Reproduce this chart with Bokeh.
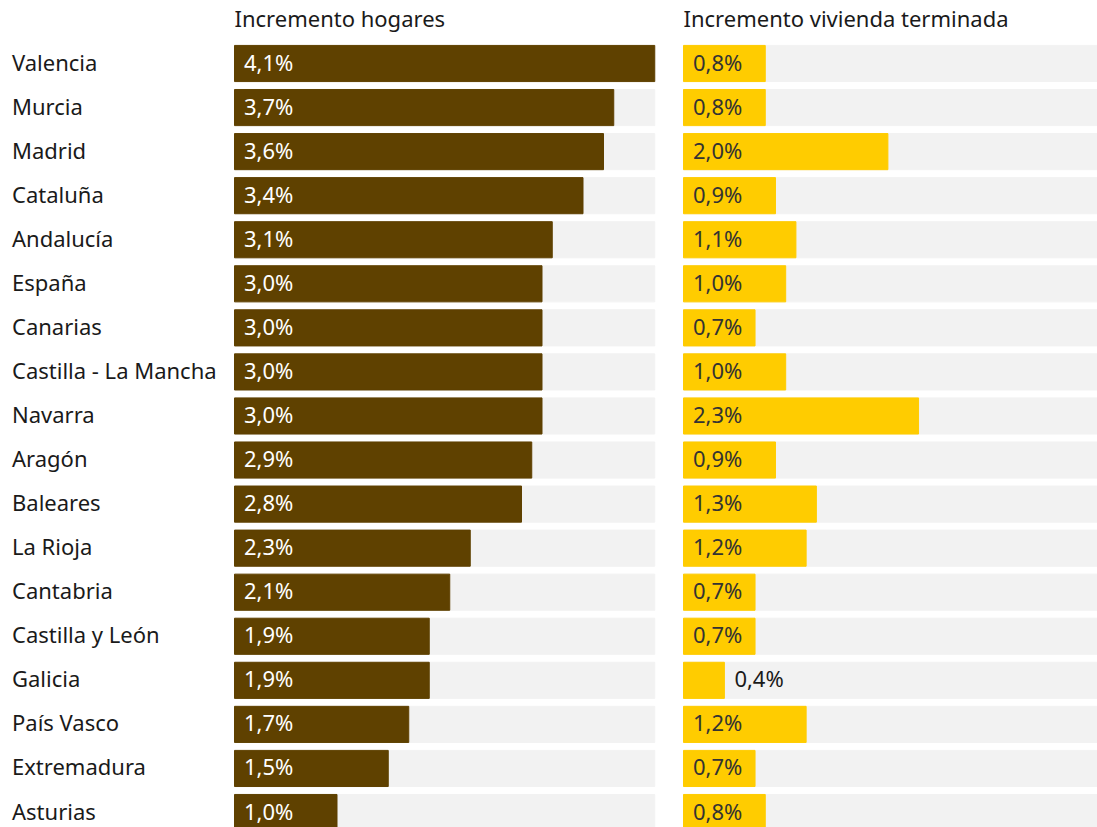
from bokeh.plotting import figure
from bokeh.layouts import row
from bokeh.models import Range1d, ColumnDataSource
from bokeh.core.properties import value
from bokeh.embed import file_html
from bokeh.resources import INLINE

regions = ["Valencia", "Murcia", "Madrid", "Cataluña", "Andalucía", "España", "Canarias",
           "Castilla - La Mancha", "Navarra", "Aragón", "Baleares", "La Rioja", "Cantabria",
           "Castilla y León", "Galicia", "País Vasco", "Extremadura", "Asturias"]
hogares = [4.1, 3.7, 3.6, 3.4, 3.1, 3.0, 3.0, 3.0, 3.0, 2.9, 2.8, 2.3, 2.1, 1.9, 1.9, 1.7, 1.5, 1.0]
vivienda = [0.8, 0.8, 2.0, 0.9, 1.1, 1.0, 0.7, 1.0, 2.3, 0.9, 1.3, 1.2, 0.7, 0.7, 0.4, 1.2, 0.7, 0.8]
titles = ["Incremento hogares", "Incremento vivienda terminada"]
max_val = 4.1

FONT = "Noto Sans"
FS = "22px"
H = 827
ROW = 44.06         # pixels per row
TOP = 63            # pixel of first row centre
BAR_H = 0.82
n = len(regions)
ys = list(range(n))
y_top = -TOP / ROW
y_bot = (H - TOP) / ROW


def fmt(v):
    return ("%.1f" % v).replace(".", ",") + "%"


def panel(width, left_px, S, vals, color, inside_color, title, with_labels):
    p = figure(width=width, height=H, output_backend="svg", toolbar_location=None,
               x_range=Range1d(-left_px / S, (width - left_px) / S),
               y_range=Range1d(y_bot, y_top), min_border=0, outline_line_color=None)
    p.axis.visible = False
    p.grid.visible = False
    p.background_fill_color = "white"
    p.border_fill_color = "white"
    src = ColumnDataSource(dict(y=ys, v=vals, bg=[max_val] * n))
    p.hbar(y="y", left=0, right="bg", height=BAR_H, color="#f2f2f2", source=src)
    p.hbar(y="y", left=0, right="v", height=BAR_H, color=color, source=src)
    inside = [v >= 0.5 for v in vals]
    lx = [9.5 / S if ins else v + 10 / S for v, ins in zip(vals, inside)]
    lc = [inside_color if ins else "#1a1a1a" for ins in inside]
    lsrc = ColumnDataSource(dict(x=lx, y=ys, t=[fmt(v) for v in vals], c=lc))
    p.text(x="x", y="y", text="t", text_color="c", source=lsrc, text_font=value(FONT),
           text_font_size=FS, text_baseline="middle", text_align="left", y_offset=-2)
    p.text(x=[0], y=[-1.0], text=[title], text_color="#1a1a1a", text_font=value(FONT),
           text_font_size=FS, text_baseline="middle", text_align="left", y_offset=-1)
    if with_labels:
        p.text(x=[(-left_px + 11.5) / S] * n, y=ys, text=regions, text_color="#1a1a1a",
               text_font=value(FONT), text_font_size=FS, text_baseline="middle",
               text_align="left", y_offset=-2)
    return p


p1 = panel(669, 234, 102.5, hogares, "#5f4100", "white", titles[0], True)
p2 = panel(428, 14, 102.2, vivienda, "#ffcc00", "#333333", titles[1], False)
layout = row(p1, p2, spacing=0)
open("out.html", "w").write(file_html(layout, INLINE))
